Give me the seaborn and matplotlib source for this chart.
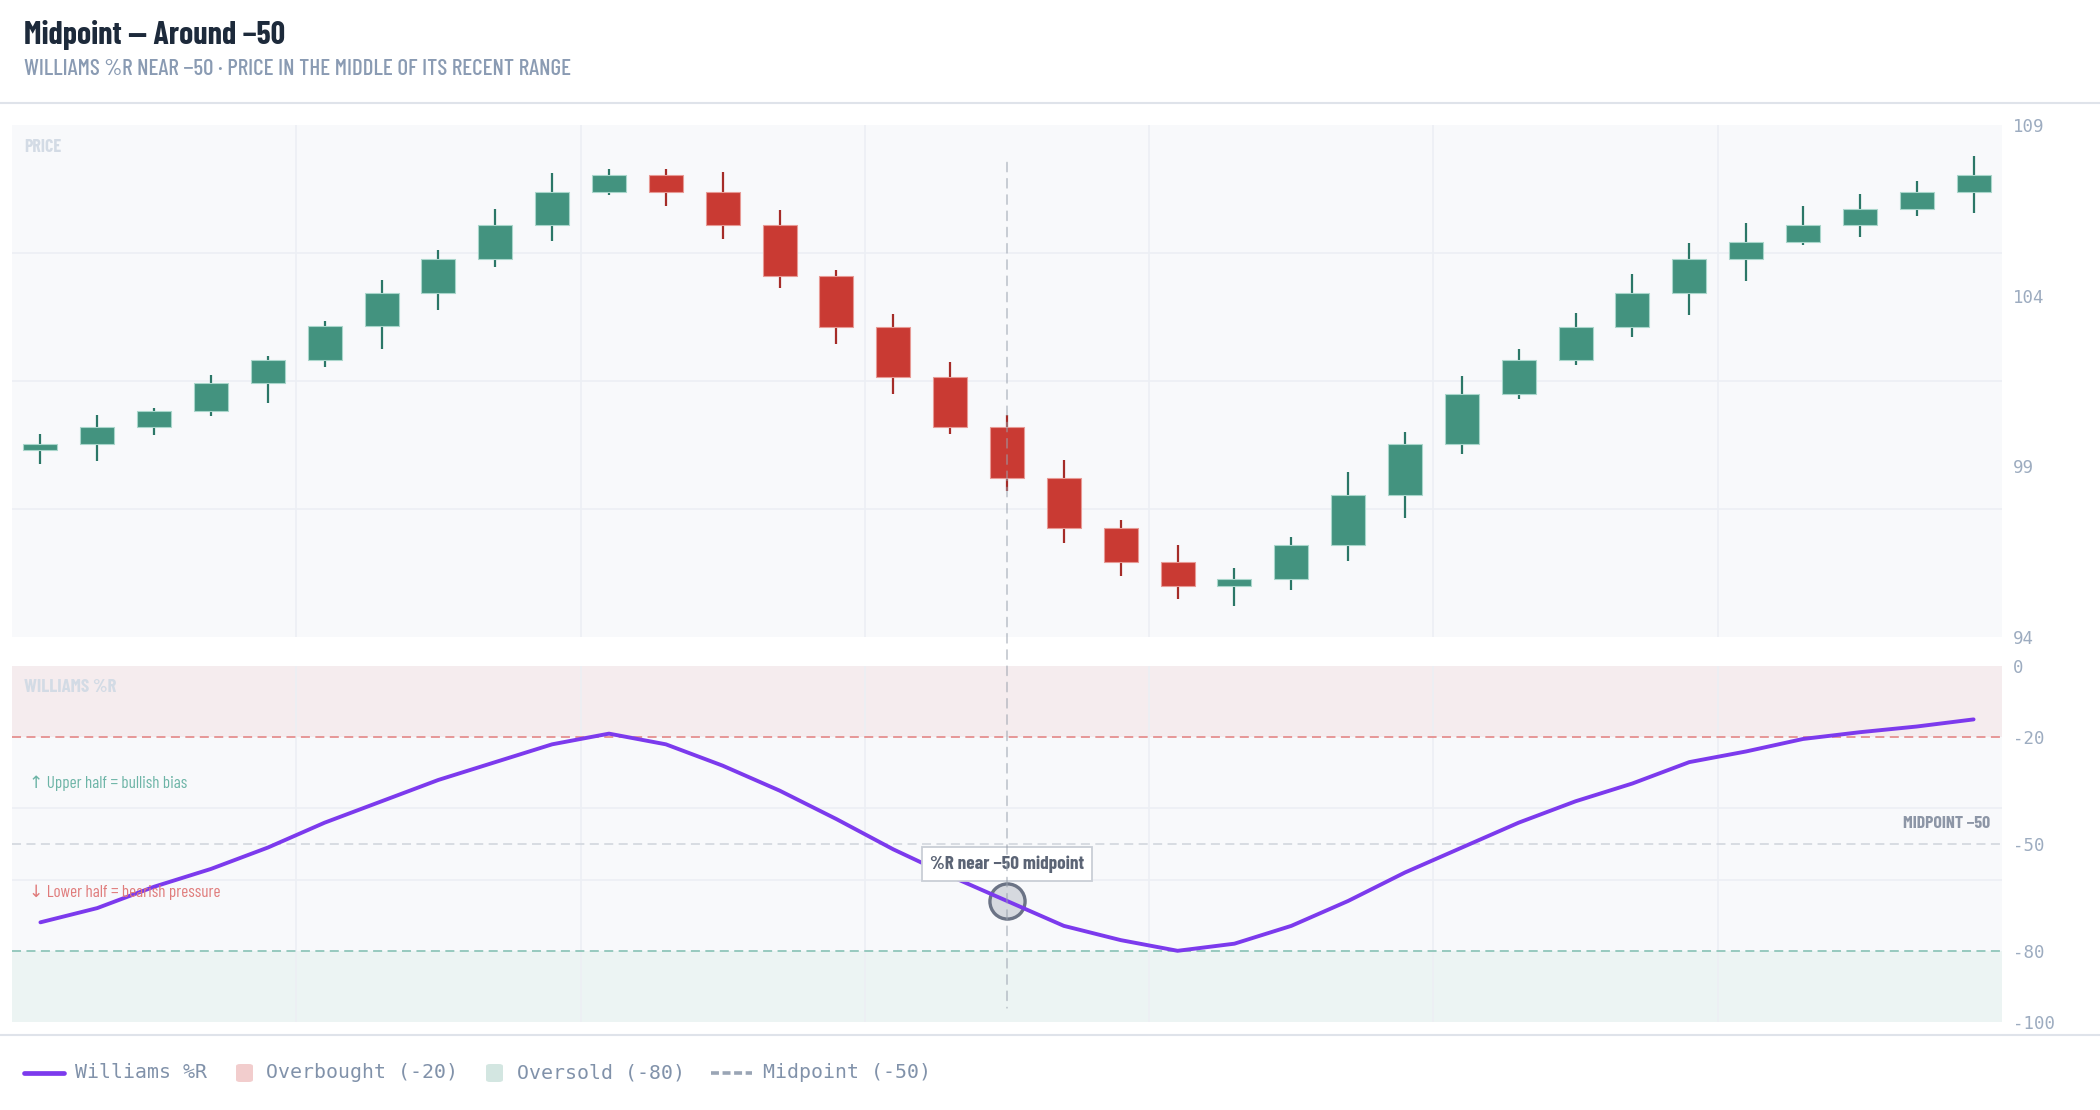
import numpy as np
import pandas as pd
import seaborn as sns
import matplotlib
matplotlib.use("Agg")
import matplotlib.pyplot as plt
import matplotlib.font_manager as fm
from matplotlib.lines import Line2D
from matplotlib.patches import ConnectionPatch, FancyBboxPatch

# ---------------- data ----------------
opens = [99.47, 99.65, 100.14, 100.63, 101.43, 102.11, 103.10, 104.09, 105.07, 106.06,
         107.04, 107.53, 107.04, 106.06, 104.58, 103.09, 101.62, 100.14, 98.66, 97.19,
         96.19, 95.50, 95.70, 96.69, 98.16, 99.65, 101.13, 102.11, 103.09, 104.08,
         105.07, 105.57, 106.06, 106.55, 107.04]
closes = [99.65, 100.14, 100.63, 101.43, 102.11, 103.10, 104.09, 105.07, 106.06, 107.04,
          107.53, 107.04, 106.06, 104.58, 103.09, 101.62, 100.14, 98.66, 97.19, 96.19,
          95.50, 95.70, 96.69, 98.16, 99.65, 101.13, 102.11, 103.09, 104.08, 105.07,
          105.57, 106.06, 106.55, 107.04, 107.53]
highs = [99.94, 100.49, 100.72, 101.67, 102.23, 103.25, 104.45, 105.34, 106.54, 107.60,
         107.71, 107.71, 107.63, 106.50, 104.75, 103.46, 102.06, 100.50, 99.18, 97.42,
         96.69, 96.02, 96.94, 98.82, 100.02, 101.66, 102.43, 103.49, 104.63, 105.55,
         106.12, 106.62, 106.99, 107.36, 108.09]
lows = [99.07, 99.16, 99.92, 100.46, 100.86, 101.90, 102.45, 103.57, 104.84, 105.61,
        106.96, 106.64, 105.67, 104.21, 102.59, 101.12, 99.95, 98.29, 96.76, 95.80,
        95.12, 94.91, 95.38, 96.24, 97.49, 99.37, 100.98, 101.98, 102.79, 103.44,
        104.43, 105.49, 105.72, 106.32, 106.43]
williams_r = [-72, -68, -62, -57, -51, -44, -38, -32, -27, -22,
              -19, -22, -28, -35, -43, -51.5, -59, -66, -73, -77,
              -80, -78, -73, -66, -58, -51, -44, -38, -33, -27,
              -24, -20.5, -18.6, -17, -15]
price_ticks = [94, 99, 104, 109]
wr_ticks = [0, -20, -50, -80, -100]
wr_tick_labels = ["0", "-20", "-50", "-80", "-100"]
highlight_idx = 17
title = "Midpoint — Around −50"
subtitle = "WILLIAMS %R NEAR −50 · PRICE IN THE MIDDLE OF ITS RECENT RANGE"
legend_labels = ["Williams %R", "Overbought (-20)", "Oversold (-80)", "Midpoint (-50)"]

# ---------------- fonts ----------------
sns.set_theme(style="white")
avail = {f.name for f in fm.fontManager.ttflist}
COND = "DejaVu Sans"
for cand in ["Barlow Condensed", "Roboto Condensed", "Liberation Sans Narrow",
             "Open Sans Condensed", "Roboto"]:
    if cand in avail:
        COND = cand
        break
MONO = "DejaVu Sans Mono"
plt.rcParams["font.family"] = [COND, "DejaVu Sans"]
CF = [COND, "DejaVu Sans"]

# ---------------- figure ----------------
fig = plt.figure(figsize=(21, 11.1), dpi=100)
fig.patch.set_facecolor("white")
W, H = 2100, 1110

def ax_rect(x0, y0, x1, y1):
    return [x0 / W, 1 - y1 / H, (x1 - x0) / W, (y1 - y0) / H]

ax_p = fig.add_axes(ax_rect(12, 125, 2002, 637))
ax_w = fig.add_axes(ax_rect(12, 666, 2002, 1022))

BG = "#f8f9fb"
GRID = "#eceff4"
n = len(opens)
x = np.arange(n)
df = pd.DataFrame({"i": x, "open": opens, "close": closes, "high": highs,
                   "low": lows, "wr": williams_r})
df["up"] = df["close"] >= df["open"]

for ax in (ax_p, ax_w):
    ax.set_facecolor(BG)
    for s in ax.spines.values():
        s.set_visible(False)
    ax.set_xlim(-0.5, n - 0.5)
    for gx in np.arange(4.5, n - 1, 5):
        ax.axvline(gx, color=GRID, lw=1.2, zorder=0.5)
    ax.yaxis.tick_right()
    ax.tick_params(axis="y", length=0, pad=8, labelsize=12.5, labelcolor="#9dacc0")
    ax.tick_params(axis="x", length=0, labelbottom=False)

# ---- price panel ----
ax_p.set_ylim(94, 109)
for gy in [105.25, 101.5, 97.75]:
    ax_p.axhline(gy, color=GRID, lw=1.2, zorder=0.5)

G_BODY, G_WICK, G_EDGE = "#43937f", "#2b7767", "#a9d6cb"
R_BODY, R_WICK, R_EDGE = "#c93a33", "#a52c28", "#e79a95"
body_col = np.where(df["up"], G_BODY, R_BODY)
wick_col = np.where(df["up"], G_WICK, R_WICK)
edge_col = np.where(df["up"], G_EDGE, R_EDGE)
ax_p.vlines(df["i"], df["low"], df["high"], colors=wick_col, lw=1.6, zorder=2)
bottoms = np.minimum(df["open"], df["close"])
heights = np.abs(df["close"] - df["open"])
ax_p.bar(df["i"], heights, bottom=bottoms, width=0.6, color=body_col,
         edgecolor=edge_col, linewidth=0.8, zorder=3)
ax_p.set_yticks(price_ticks)
ax_p.set_yticklabels([str(t) for t in price_ticks], fontfamily=MONO)
ax_p.text(0.006, 0.957, "PRICE", transform=ax_p.transAxes, fontsize=13,
          fontweight="bold", color="#d3dbe5", va="center", ha="left", family=CF)

# ---- Williams %R panel ----
ax_w.set_ylim(-100, 0)
ax_w.axhspan(-20, 0, color="#f5ecee", zorder=0.2, lw=0)
ax_w.axhspan(-100, -80, color="#ecf4f3", zorder=0.2, lw=0)
for gy in [-40, -60]:
    ax_w.axhline(gy, color=GRID, lw=1.2, zorder=0.5)
ax_w.axhline(-20, color="#e58f8f", lw=1.3, dashes=(5, 3), zorder=1)
ax_w.axhline(-50, color="#d5d9e0", lw=1.3, dashes=(5, 3), zorder=1)
ax_w.axhline(-80, color="#8fc6ba", lw=1.3, dashes=(5, 3), zorder=1)

sns.lineplot(data=df, x="i", y="wr", ax=ax_w, color="#7c3aed", lw=2.8,
             zorder=3, legend=False)
ax_w.set_xlabel("")
ax_w.set_ylabel("")
ax_w.set_xlim(-0.5, n - 0.5)
ax_w.set_yticks(wr_ticks)
ax_w.set_yticklabels(wr_tick_labels, fontfamily=MONO)

ax_w.scatter([highlight_idx], [williams_r[highlight_idx]], s=640,
             facecolor=(0.45, 0.48, 0.55, 0.25), edgecolor="#6b7385",
             linewidth=2.4, zorder=2.5)
ax_w.text(highlight_idx, -55.6, "%R near −50 midpoint", ha="center", va="center",
          fontsize=13.8, fontweight="bold", color="#5b6475", zorder=6, family=CF,
          bbox=dict(boxstyle="square,pad=0.42", fc="white", ec="#c9ced6", lw=1.3))
ax_w.text(0.006, 0.94, "WILLIAMS %R", transform=ax_w.transAxes, fontsize=13.5,
          fontweight="bold", color="#d3dbe5", va="center", ha="left", family=CF)
ax_w.text(-0.2, -33, "↑ Upper half = bullish bias", ha="left", va="center",
          fontsize=12.3, color="#6cb4a6", family=CF)
ax_w.text(-0.2, -63.5, "↓ Lower half = bearish pressure", ha="left", va="center",
          fontsize=12.3, color="#e07b7b", family=CF)
ax_w.text(0.994, -44.3, "MIDPOINT −50", transform=ax_w.get_yaxis_transform(),
          ha="right", va="center", fontsize=12.8, fontweight="bold",
          color="#8d96a6", family=CF)

# vertical marker line across both panels
con = ConnectionPatch(xyA=(highlight_idx, 107.9), coordsA=ax_p.transData,
                      xyB=(highlight_idx, -96), coordsB=ax_w.transData,
                      color=(0.6, 0.63, 0.68, 0.55), lw=1.3, linestyle=(0, (5, 4)),
                      zorder=5)
fig.add_artist(con)

# ---- titles / separators ----
fig.text(24 / W, 1 - 35 / H, title, fontsize=23, fontweight="bold",
         color="#1d2a3b", va="center", ha="left", family=CF)
fig.text(24 / W, 1 - 69 / H, subtitle, fontsize=16.6, fontweight="medium",
         color="#8a9bb3", va="center", ha="left", family=CF)
fig.add_artist(Line2D([0, 1], [1 - 103 / H] * 2, color="#dfe3ea", lw=1.5,
                      transform=fig.transFigure))
fig.add_artist(Line2D([0, 1], [1 - 1035 / H] * 2, color="#dfe3ea", lw=1.5,
                      transform=fig.transFigure))

# ---- legend (drawn manually for exact spacing) ----
LY = 1 - 1073 / H
LEG_COLOR = "#8192aa"
fig.add_artist(Line2D([24 / W, 64 / W], [LY, LY], color="#7c3aed", lw=3.4,
                      solid_capstyle="round", transform=fig.transFigure))
fig.text(75 / W, LY, legend_labels[0], family=MONO, fontsize=14.3,
         color=LEG_COLOR, va="center", ha="left")
for (sx, col, tx, lab) in [(236, "#f2cdcd", 266, legend_labels[1]),
                           (486, "#d3e6e1", 517, legend_labels[2])]:
    fig.add_artist(FancyBboxPatch((sx / W, LY - 9 / H), 17 / W, 18 / H,
                                  boxstyle="round,pad=0,rounding_size=0.002",
                                  fc=col, ec="none", transform=fig.transFigure))
    fig.text(tx / W, LY, lab, family=MONO, fontsize=14.3, color=LEG_COLOR,
             va="center", ha="left")
fig.add_artist(Line2D([711 / W, 752 / W], [LY, LY], color="#9aa5b5", lw=2.6,
                      linestyle=(0, (2.2, 1.0)), transform=fig.transFigure))
fig.text(763 / W, LY, legend_labels[3], family=MONO, fontsize=14.3,
         color=LEG_COLOR, va="center", ha="left")

fig.savefig("out.png", dpi=100, facecolor="white")
